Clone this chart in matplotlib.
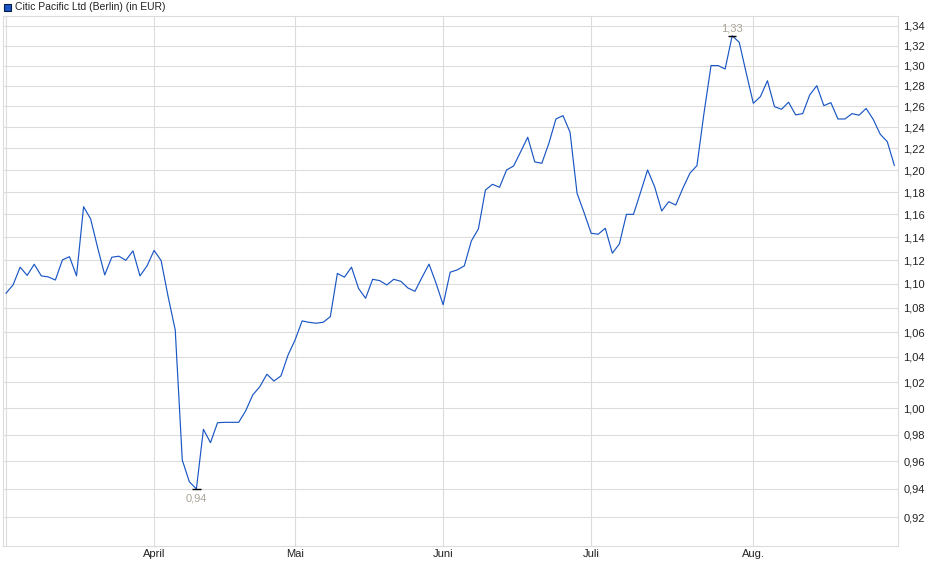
import numpy as np
import matplotlib
matplotlib.use("Agg")
import matplotlib.pyplot as plt
from matplotlib.ticker import FixedLocator, FuncFormatter, NullLocator
from matplotlib.patches import Rectangle

plt.rcParams["font.family"] = ["Liberation Sans", "DejaVu Sans"]

title = "Citic Pacific Ltd (Berlin) (in EUR)"

# daily closing prices (EUR)
prices = [
    1.092, 1.099, 1.114, 1.107, 1.1165, 1.1066, 1.1057, 1.1031, 1.1202, 1.123,
    1.1066, 1.1668, 1.1559, 1.1306, 1.1074, 1.1225, 1.1234, 1.1199, 1.128, 1.1066,
    1.1151, 1.1284, 1.1196, 1.0889, 1.0617, 0.961, 0.9452, 0.94, 0.9839, 0.9739,
    0.9889, 0.9892, 0.9892, 0.9892, 0.998, 1.0102, 1.0166, 1.0263, 1.021, 1.025,
    1.0415, 1.0536, 1.0691, 1.0679, 1.0672, 1.068, 1.0726, 1.1087, 1.1055, 1.114,
    1.096, 1.0878, 1.1037, 1.1026, 1.0989, 1.1037, 1.102, 1.0964, 1.0936, 1.1053,
    1.1166, 1.1003, 1.0824, 1.1097, 1.1117, 1.1151, 1.1366, 1.1471, 1.1818, 1.187,
    1.1843, 1.2001, 1.2038, 1.217, 1.2306, 1.2075, 1.2063, 1.2249, 1.2479, 1.2511,
    1.2353, 1.1788, 1.1614, 1.1433, 1.1425, 1.1477, 1.126, 1.134, 1.16, 1.16,
    1.1797, 1.2001, 1.1848, 1.163, 1.1713, 1.1683, 1.1834, 1.1971, 1.2041, 1.2534,
    1.30, 1.30, 1.2966, 1.33, 1.3234, 1.2924, 1.263, 1.2694, 1.285, 1.2597,
    1.2572, 1.264, 1.2518, 1.253, 1.2711, 1.2801, 1.2607, 1.2636, 1.2479, 1.2479,
    1.253, 1.2515, 1.258, 1.2476, 1.2334, 1.2264, 1.2044,
]

# trading-day index of each month start, and its label
month_idx = [0, 21, 41, 62, 83, 106]
month_labels = ["", "April", "Mai", "Juni", "Juli", "Aug."]

y_ticks = [round(0.92 + 0.02 * i, 2) for i in range(22)]

W, H = 940, 579
fig = plt.figure(figsize=(W / 100, H / 100), dpi=100)
ax = fig.add_axes([3 / W, 1 - 546 / H, 895 / W, 530 / H])

x = np.arange(len(prices))
y = np.array(prices)

grid_c = "#dcdcdc"
ax.plot(x, y, color="#1a56c4", lw=0.85, zorder=3)

ax.set_yscale("log")
ax.set_ylim(0.8998, 1.3503)
ax.set_xlim(-0.43, len(prices) - 1 + 0.52)

ax.yaxis.set_major_locator(FixedLocator(y_ticks))
ax.yaxis.set_minor_locator(NullLocator())
ax.yaxis.set_major_formatter(FuncFormatter(lambda v, p: f"{v:.2f}".replace(".", ",")))
ax.yaxis.tick_right()
ax.tick_params(axis="y", length=0, pad=4, labelsize=8, colors="#222222")

ax.set_xticks(month_idx)
ax.set_xticklabels(month_labels)
ax.tick_params(axis="x", length=0, pad=2, labelsize=8, colors="#222222")

ax.grid(True, color=grid_c, lw=0.8)
ax.set_axisbelow(True)
for s in ax.spines.values():
    s.set_color(grid_c)
    s.set_linewidth(0.8)

# min / max markers
lbl_c = "#aaa398"
i_max = int(np.argmax(y))
i_min = int(np.argmin(y))
ax.hlines(y[i_max], i_max - 0.6, i_max + 0.6, color="black", lw=1.0, zorder=4)
ax.hlines(y[i_min], i_min - 0.6, i_min + 0.6, color="black", lw=1.0, zorder=4)
ax.annotate(f"{y[i_max]:.2f}".replace(".", ","), (i_max, y[i_max]),
            xytext=(0, 2), textcoords="offset points", ha="center", va="bottom",
            fontsize=8, color=lbl_c)
ax.annotate(f"{y[i_min]:.2f}".replace(".", ","), (i_min, y[i_min]),
            xytext=(0, -3), textcoords="offset points", ha="center", va="top",
            fontsize=8, color=lbl_c)

# legend box + title
fig.patches.append(Rectangle((4 / W, 1 - 11 / H), 7 / W, 7 / H, transform=fig.transFigure,
                             facecolor="#1a56c4", edgecolor="#0a1a40", lw=0.8))
fig.text(15 / W, 1 - 7.5 / H, title, fontsize=7.5, va="center", ha="left", color="#222222")

fig.savefig("out.png", dpi=100)
